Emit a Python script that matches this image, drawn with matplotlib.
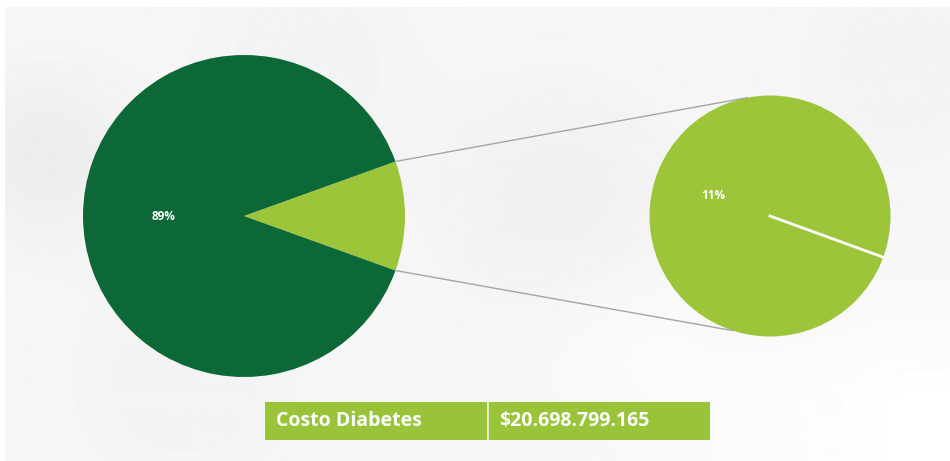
import numpy as np
import matplotlib.pyplot as plt
from matplotlib.patches import Rectangle

# pie of pie: share of total spend going to diabetes
main_labels = ["Diabetes", "Otros"]
main_shares = [11, 89]
main_pct = ["11%", "89%"]
sub_shares = [11]
sub_pct = ["11%"]
table_cells = ["Costo Diabetes", "$20.698.799.165"]

DARK = "#0d6837"
LIGHT = "#9dc53a"
W, H = 950, 461
FONT = ["Open Sans", "DejaVu Sans"]

fig = plt.figure(figsize=(W / 100, H / 100), dpi=100)
ax = fig.add_axes([0, 0, 1, 1])
fig.patch.set_facecolor("white")

# soft washed-out backdrop
yy, xx = np.mgrid[0:H, 0:W]
bg = np.full((H, W), 0.968)
for cx, cy, s, a in [(40, 150, 60, -0.04), (300, 60, 90, -0.015), (560, 200, 80, -0.03),
                     (620, 330, 70, 0.015), (900, 60, 80, -0.015), (180, 380, 90, -0.015)]:
    bg += a * np.exp(-((xx - cx) ** 2 + (yy - cy) ** 2) / (2 * s ** 2))
bg += 0.03 * np.clip((xx - 600) / 300, 0, 1) * np.clip((yy - 250) / 150, 0, 1)
bg = np.clip(bg, 0, 1)
ax.imshow(bg, cmap="gray", vmin=0, vmax=1, extent=(5, W, 0, H - 8), zorder=0,
          interpolation="bilinear")

txt = dict(color="white", fontsize=8.5, fontweight="bold", family=FONT)

# main pie, diabetes slice centred on the right
c1, r1 = (244, H - 216), 161
start = -main_shares[0] / sum(main_shares) * 360 / 2
wedges, _, autotexts = ax.pie(main_shares, colors=[LIGHT, DARK], center=c1, radius=r1,
                             startangle=start, counterclock=True, frame=True,
                             autopct=lambda p: "", pctdistance=0.5,
                             wedgeprops=dict(linewidth=0))
for t, s in zip(autotexts, main_pct):
    t.set_text("" if s == main_pct[0] else s)
    t.set(**txt)

# breakdown pie on the right
c2, r2 = (770, H - 216), 120.5
sub_start = -20
w2, _, at2 = ax.pie(sub_shares, colors=[LIGHT], center=c2, radius=r2,
                    startangle=sub_start, frame=True, autopct=lambda p: "",
                    pctdistance=0.5, wedgeprops=dict(linewidth=0))
for t, s in zip(at2, sub_pct):
    t.set_text(s)
    t.set(**txt)
ang = np.deg2rad(sub_start)
ax.plot([c2[0], c2[0] + r2 * np.cos(ang)], [c2[1], c2[1] + r2 * np.sin(ang)],
        color="white", lw=2, zorder=5)

# connectors from slice edges to the second pie
half = np.deg2rad(-start)
for sgn, a2 in [(1, 101), (-1, -108)]:
    p1 = (c1[0] + r1 * np.cos(half), c1[1] + sgn * r1 * np.sin(half))
    t2 = np.deg2rad(a2)
    p2 = (c2[0] + r2 * np.cos(t2), c2[1] + r2 * np.sin(t2))
    ax.plot([p1[0], p2[0]], [p1[1], p2[1]], color="#a4a4ac", lw=1, zorder=1)

ax.set_xlim(0, W)
ax.set_ylim(0, H)
ax.set_aspect("auto")
ax.axis("off")

# cost table below
cell_x = [265, 488]
cell_w = [222, 222]
y0, ch = H - 440, 38
for x, w, s in zip(cell_x, cell_w, table_cells):
    ax.add_patch(Rectangle((x, y0), w, ch, facecolor="#99c43a", edgecolor="none", zorder=3))
    ax.text(x + 11, y0 + ch / 2, s, color="white", fontsize=14, fontweight="bold",
            family=FONT, va="center", ha="left", zorder=4)
ax.plot([487.5, 487.5], [y0, y0 + ch], color="#f4f4e4", lw=1.2, zorder=4)

fig.savefig("out.png", dpi=100)
